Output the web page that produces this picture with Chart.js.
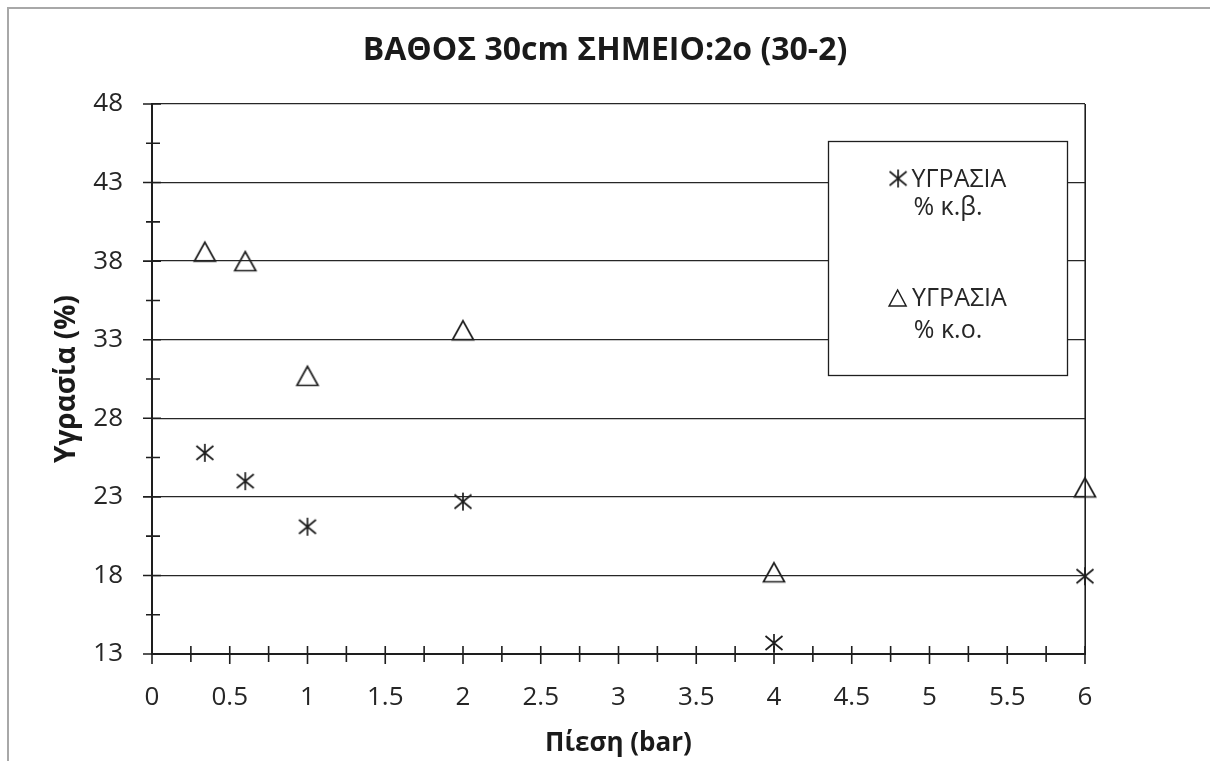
<!DOCTYPE html>
<html><head><meta charset="utf-8">
<script src="https://cdn.jsdelivr.net/npm/chart.js@4.4.1/dist/chart.umd.min.js"></script>
<style>html,body{margin:0;padding:0;background:#fff;overflow:hidden}</style>
</head><body>
<canvas id="c" width="1210" height="761" style="display:block;width:1210px;height:761px"></canvas>
<script>
// ---- data ----
const chartTitle = 'ΒΑΘΟΣ 30cm ΣΗΜΕΙΟ:2ο (30-2)';
const xTitle = 'Πίεση (bar)';
const yTitle = 'Υγρασία (%)';
const pressure = [0.34, 0.6, 1, 2, 4, 6];
const moistureWeight = [25.8, 24.0, 21.1, 22.7, 13.7, 17.95];
const moistureVolume = [38.6, 38.0, 30.7, 33.6, 18.2, 23.6];
const legendLines1 = ['ΥΓΡΑΣΙΑ', '% κ.β.'];
const legendLines2 = ['ΥΓΡΑΣΙΑ', '% κ.ο.'];
const xTicks = [0, 0.5, 1, 1.5, 2, 2.5, 3, 3.5, 4, 4.5, 5, 5.5, 6];
const xMinorTicks = [0.25, 0.75, 1.25, 1.75, 2.25, 2.75, 3.25, 3.75, 4.25, 4.75, 5.25, 5.75];
const yTicks = [13, 18, 23, 28, 33, 38, 43, 48];
const yMinorTicks = [15.5, 20.5, 25.5, 30.5, 35.5, 40.5, 45.5];

const FONT = "'Open Sans', 'Noto Sans', sans-serif";
const INK = '#1e1e1e';

function makeAsterisk() {
  const c = document.createElement('canvas'); c.width = 24; c.height = 24;
  const g = c.getContext('2d');
  g.strokeStyle = INK; g.lineWidth = 1.7; g.lineCap = 'butt';
  g.beginPath();
  g.moveTo(12, 3); g.lineTo(12, 21);
  g.moveTo(3.5, 5); g.lineTo(20.5, 19);
  g.moveTo(3.5, 19); g.lineTo(20.5, 5);
  g.stroke();
  return c;
}
function makeTriangle() {
  const c = document.createElement('canvas'); c.width = 26; c.height = 26;
  const g = c.getContext('2d');
  g.strokeStyle = INK; g.lineWidth = 1.7; g.lineJoin = 'miter';
  g.beginPath();
  g.moveTo(13, 3.5); g.lineTo(2.5, 22.5); g.lineTo(23.5, 22.5); g.closePath();
  g.stroke();
  return c;
}
const asterisk = makeAsterisk();
const triangle = makeTriangle();

const decor = {
  id: 'decor',
  beforeDraw(chart) {
    const ctx = chart.ctx;
    ctx.save();
    ctx.fillStyle = '#fff'; ctx.fillRect(0, 0, chart.width, chart.height);
    ctx.strokeStyle = '#a8a8a8'; ctx.lineWidth = 2;
    ctx.strokeRect(8, 8, 1400, 1000);
    ctx.restore();
  },
  beforeDatasetsDraw(chart) {
    const ctx = chart.ctx, xs = chart.scales.x, ys = chart.scales.y, a = chart.chartArea;
    ctx.save();
    ctx.strokeStyle = INK;
    ctx.lineWidth = 1.6;
    ctx.beginPath(); ctx.moveTo(Math.round(a.right) + 0.2, a.top); ctx.lineTo(Math.round(a.right) + 0.2, a.bottom); ctx.stroke();
    ctx.beginPath();
    const x0 = xs.getPixelForValue(xTicks[0]);
    const y0 = ys.getPixelForValue(yTicks[0]);
    xTicks.forEach(v => { const p = xs.getPixelForValue(v); ctx.moveTo(p, y0 - 8); ctx.lineTo(p, y0 + 10); });
    xMinorTicks.forEach(v => { const p = xs.getPixelForValue(v); ctx.moveTo(p, y0 - 8); ctx.lineTo(p, y0 + 8); });
    yTicks.forEach(v => { const p = ys.getPixelForValue(v); ctx.moveTo(x0 - 9, p); ctx.lineTo(x0 + 9, p); });
    yMinorTicks.forEach(v => { const p = ys.getPixelForValue(v); ctx.moveTo(x0 - 6, p); ctx.lineTo(x0 + 8, p); });
    ctx.stroke();
    ctx.restore();
  },
  afterDraw(chart) {
    const ctx = chart.ctx;
    ctx.save();
    ctx.fillStyle = '#fff';
    ctx.fillRect(828, 141, 240, 235);
    ctx.strokeStyle = INK; ctx.lineWidth = 1.3;
    ctx.strokeRect(828.5, 141.5, 239, 234);
    ctx.fillStyle = '#262626';
    ctx.font = '25px ' + FONT;
    ctx.textBaseline = 'alphabetic';
    const cx = 948;
    ctx.textAlign = 'left';
    let w = ctx.measureText(legendLines1[0]).width;
    let sx = cx - (17 + 5 + w) / 2;
    ctx.drawImage(asterisk, sx - 3.5, 178.5 - 12, 24, 24);
    ctx.fillText(legendLines1[0], sx + 22, 187);
    ctx.textAlign = 'center';
    ctx.fillText(legendLines1[1], cx, 215);
    ctx.textAlign = 'left';
    w = ctx.measureText(legendLines2[0]).width;
    sx = cx - (17 + 6 + w) / 2;
    ctx.strokeStyle = INK; ctx.lineWidth = 1.5;
    ctx.beginPath();
    ctx.moveTo(sx + 8.5, 290); ctx.lineTo(sx, 306); ctx.lineTo(sx + 17, 306); ctx.closePath();
    ctx.stroke();
    ctx.fillText(legendLines2[0], sx + 23, 306);
    ctx.textAlign = 'center';
    ctx.fillText(legendLines2[1], cx, 338);
    ctx.restore();
  }
};

Chart.defaults.font.family = FONT;
Chart.defaults.color = '#262626';

new Chart(document.getElementById('c'), {
  type: 'scatter',
  data: {
    datasets: [
      {
        label: legendLines1.join(' '),
        data: pressure.map((x, i) => ({ x, y: moistureWeight[i] })),
        pointStyle: asterisk, pointRadius: 12, pointHoverRadius: 12,
        showLine: false, clip: false
      },
      {
        label: legendLines2.join(' '),
        data: pressure.map((x, i) => ({ x, y: moistureVolume[i] })),
        pointStyle: triangle, pointRadius: 13, pointHoverRadius: 13,
        showLine: false, clip: false
      }
    ]
  },
  options: {
    responsive: false,
    animation: false,
    events: [],
    layout: { padding: { left: 0, right: 0, top: 0, bottom: 0 } },
    plugins: {
      legend: { display: false },
      tooltip: { enabled: false },
      title: {
        display: true, text: chartTitle, color: '#1a1a1a',
        font: { size: 32, weight: 'bold', family: FONT, lineHeight: 1.2 },
        padding: { top: 31.7, bottom: 33.9 }
      }
    },
    scales: {
      x: {
        type: 'linear', min: 0, max: 6,
        afterBuildTicks: s => { s.ticks = xTicks.map(v => ({ value: v })); },
        afterFit: s => { s.height = 107; },
        grid: { drawOnChartArea: false, drawTicks: false },
        border: { display: true, color: INK, width: 2 },
        ticks: { padding: 28, font: { size: 26 }, color: '#262626', maxRotation: 0, autoSkip: false,
                 callback: v => String(v) },
        title: { display: true, text: xTitle, color: '#1a1a1a', font: { size: 26, weight: 'bold' }, padding: { top: 0, bottom: 2 } }
      },
      y: {
        type: 'linear', min: 13, max: 48,
        afterBuildTicks: s => { s.ticks = yTicks.map(v => ({ value: v })); },
        afterFit: s => { s.width = 152; },
        grid: { color: '#262626', lineWidth: 1.3, drawTicks: false },
        border: { display: true, color: INK, width: 2 },
        ticks: { padding: 29, font: { size: 26 }, color: '#262626', autoSkip: false, callback: v => String(v) },
        title: { display: true, text: yTitle, color: '#1a1a1a', font: { size: 28, weight: 'bold' }, padding: { top: 50, bottom: 0 } }
      },
      yRight: {
        type: 'linear', position: 'right', min: 13, max: 48,
        afterFit: s => { s.width = 125; },
        grid: { display: false, drawOnChartArea: false, drawTicks: false },
        border: { display: false },
        ticks: { display: false }
      }
    }
  },
  plugins: [decor]
});
</script>
</body></html>
